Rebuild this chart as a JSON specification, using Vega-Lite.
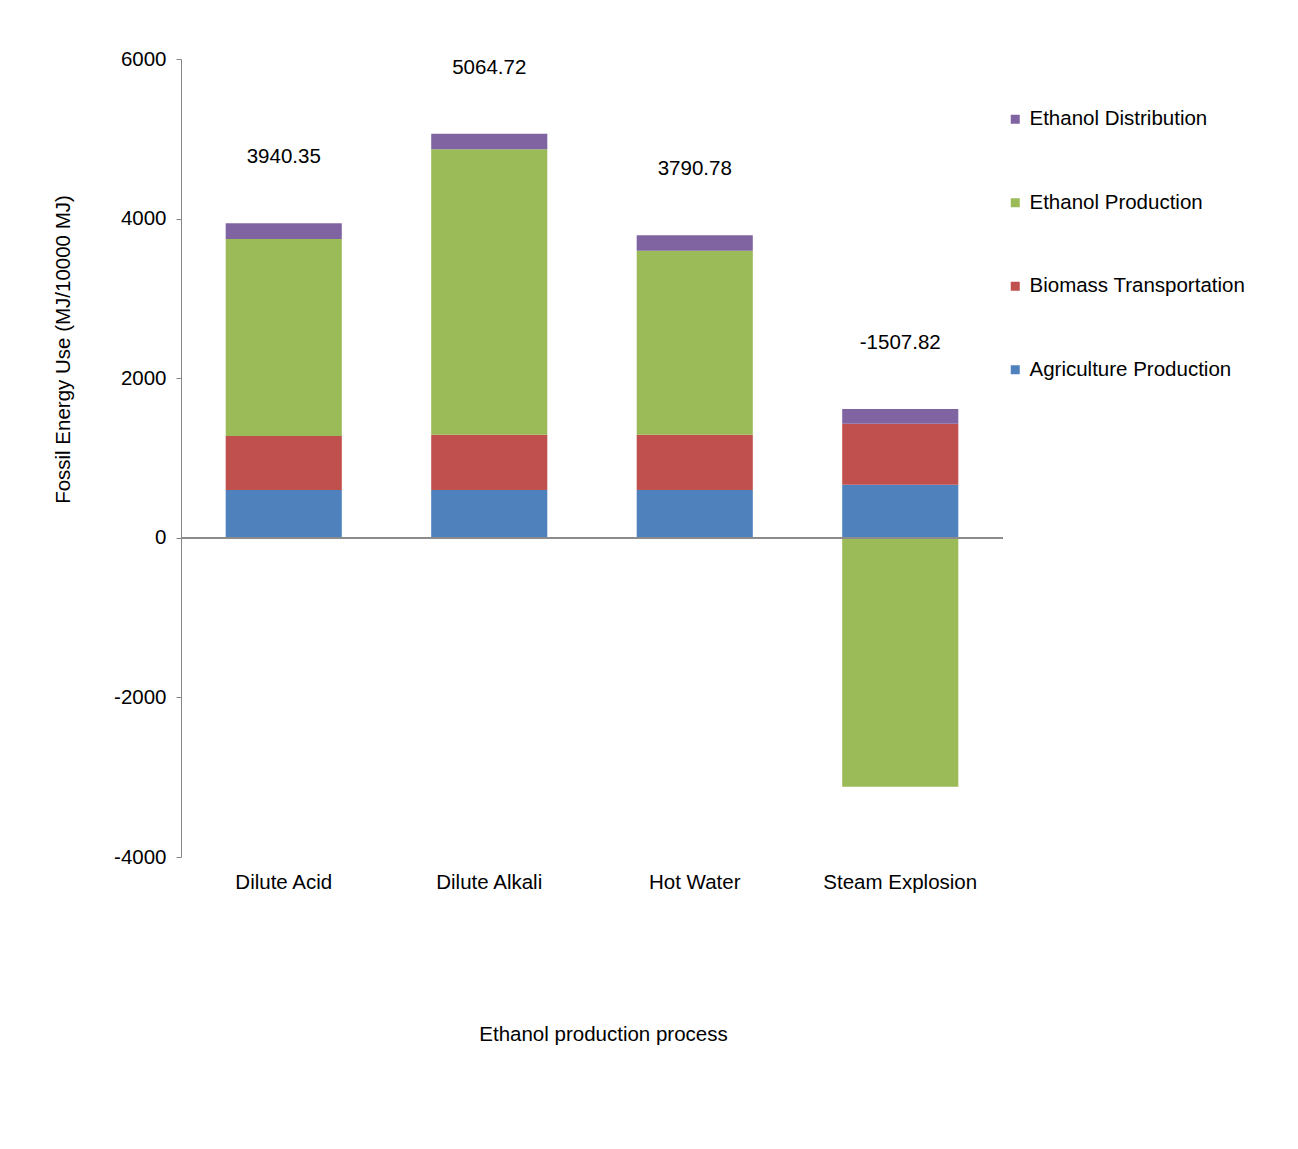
{
  "$schema": "https://vega.github.io/schema/vega-lite/v6.json",
  "width": 822,
  "height": 798,
  "autosize": {"type": "none"},
  "padding": {"left": 181, "top": 59, "right": 295, "bottom": 292},
  "background": "white",
  "config": {
    "view": {"stroke": null},
    "font": "Liberation Sans",
    "locale": {"number": {"decimal": ".", "thousands": ",", "grouping": [3], "currency": ["$", ""], "minus": "-"}},
    "axis": {"labelColor": "#000000", "titleColor": "#000000", "titleFontWeight": "normal", "labelFontSize": 20.5, "titleFontSize": 20.5, "grid": false}
  },
  "data": {
    "values": [
      {"process": "Dilute Acid", "component": "Agriculture Production", "value": 600},
      {"process": "Dilute Acid", "component": "Biomass Transportation", "value": 675},
      {"process": "Dilute Acid", "component": "Ethanol Production", "value": 2470.35},
      {"process": "Dilute Acid", "component": "Ethanol Distribution", "value": 195},
      {"process": "Dilute Alkali", "component": "Agriculture Production", "value": 600},
      {"process": "Dilute Alkali", "component": "Biomass Transportation", "value": 690},
      {"process": "Dilute Alkali", "component": "Ethanol Production", "value": 3579.72},
      {"process": "Dilute Alkali", "component": "Ethanol Distribution", "value": 195},
      {"process": "Hot Water", "component": "Agriculture Production", "value": 600},
      {"process": "Hot Water", "component": "Biomass Transportation", "value": 690},
      {"process": "Hot Water", "component": "Ethanol Production", "value": 2305.78},
      {"process": "Hot Water", "component": "Ethanol Distribution", "value": 195},
      {"process": "Steam Explosion", "component": "Agriculture Production", "value": 665},
      {"process": "Steam Explosion", "component": "Biomass Transportation", "value": 763},
      {"process": "Steam Explosion", "component": "Ethanol Production", "value": -3120.82},
      {"process": "Steam Explosion", "component": "Ethanol Distribution", "value": 185}
    ]
  },
  "layer": [
    {
      "transform": [
        {"calculate": "indexof(['Agriculture Production', 'Biomass Transportation', 'Ethanol Production', 'Ethanol Distribution'], datum.component)", "as": "stackOrder"}
      ],
      "mark": {"type": "bar"},
      "encoding": {
        "x": {
          "field": "process", "type": "nominal",
          "sort": ["Dilute Acid", "Dilute Alkali", "Hot Water", "Steam Explosion"],
          "scale": {"paddingInner": 0.435, "paddingOuter": 0.2175},
          "axis": {"title": "Ethanol production process", "labelAngle": 0, "domain": false, "ticks": false, "labelPadding": 15, "titlePadding": 132, "titleX": 422}
        },
        "y": {
          "field": "value", "type": "quantitative", "stack": "zero",
          "scale": {"domain": [-4000, 6000], "nice": false, "zero": false},
          "axis": {
            "title": "Fossil Energy Use (MJ/10000 MJ)",
            "values": [-4000, -2000, 0, 2000, 4000, 6000],
            "labelExpr": "toString(datum.value)",
            "domainColor": "#868686", "tickColor": "#868686", "tickSize": 5, "labelPadding": 10,
            "titleX": -108, "titleY": 290
          }
        },
        "order": {"field": "stackOrder", "type": "quantitative", "sort": "ascending"},
        "color": {
          "field": "component", "type": "nominal",
          "sort": ["Agriculture Production", "Biomass Transportation", "Ethanol Production", "Ethanol Distribution"],
          "scale": {
            "domain": ["Agriculture Production", "Biomass Transportation", "Ethanol Production", "Ethanol Distribution"],
            "range": ["#4F81BD", "#C0504D", "#9BBB59", "#8064A2"]
          },
          "legend": {
            "title": null, "orient": "none", "legendX": 824, "legendY": 50, "padding": 0,
            "values": ["Ethanol Distribution", "Ethanol Production", "Biomass Transportation", "Agriculture Production"],
            "symbolType": "square", "symbolSize": 81, "symbolStrokeWidth": 0,
            "labelFontSize": 20.5, "labelColor": "#000000", "labelLimit": 400, "rowPadding": 62.5, "labelOffset": 4
          }
        }
      }
    },
    {
      "mark": {"type": "rule", "color": "#8c8c8c", "strokeWidth": 1.5},
      "encoding": {"y": {"datum": 0}}
    },
    {
      "transform": [
        {"joinaggregate": [{"op": "sum", "field": "value", "as": "total"}], "groupby": ["process"]},
        {"filter": "datum.value > 0"},
        {"aggregate": [{"op": "sum", "field": "value", "as": "top"}, {"op": "max", "field": "total", "as": "total"}], "groupby": ["process"]}
      ],
      "mark": {"type": "text", "dy": -66, "fontSize": 20.5, "color": "#000000"},
      "encoding": {
        "x": {"field": "process", "type": "nominal", "sort": ["Dilute Acid", "Dilute Alkali", "Hot Water", "Steam Explosion"], "title": "Ethanol production process"},
        "y": {"field": "top", "type": "quantitative", "title": "Fossil Energy Use (MJ/10000 MJ)"},
        "text": {"field": "total", "type": "quantitative", "format": ".2f"}
      }
    }
  ]
}
